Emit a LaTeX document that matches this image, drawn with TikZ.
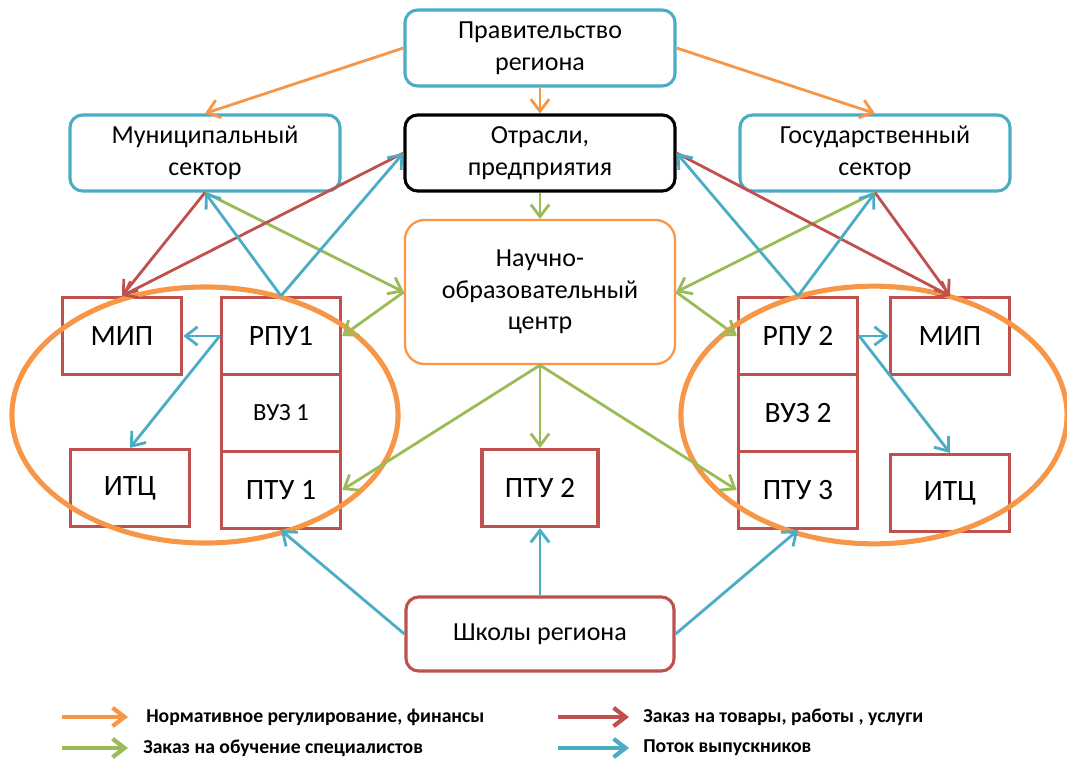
\documentclass[tikz,border=0pt]{standalone}
\usepackage{fontspec}
\setmainfont{Carlito}
\usetikzlibrary{arrows.meta}
\definecolor{cOrange}{HTML}{F79646}
\definecolor{cRed}{HTML}{C0504D}
\definecolor{cGreen}{HTML}{9BBB59}
\definecolor{cBlue}{HTML}{4BACC6}
\tikzset{
  roundbox/.style={draw=cBlue,line width=2.2pt,rounded corners=9pt,align=center,
    minimum width=6.75cm,minimum height=1.9cm,font=\fontsize{18.5}{22.5}\selectfont,inner sep=0pt},
  unitbox/.style={draw=cRed,line width=2.4pt,minimum width=2.98cm,minimum height=1.92cm,
    font=\fontsize{21}{24}\selectfont,inner sep=0pt},
  flow/.style={line width=2pt,-{Straight Barb[length=3mm,width=4.6mm]}},
  oval/.style={draw=cOrange,line width=3.6pt},
  legtext/.style={anchor=west,font=\bfseries\fontsize{14}{16}\selectfont,inner sep=0pt}
}
\begin{document}
\begin{tikzpicture}[x=0.025cm,y=-0.025cm]
    \useasboundingbox (0,0) rectangle (1067,762);
    % Top level boxes
    \node[roundbox] (gov) at (540,48) {Правительство\\региона};
    \node[roundbox] (mun) at (205,153) {Муниципальный\\сектор};
    \node[roundbox,draw=black] (otr) at (540,153) {Отрасли,\\предприятия};
    \node[roundbox] (state) at (875,153) {Государственный\\сектор};
    \node[roundbox,draw=cOrange,line width=1.6pt,minimum height=3.6cm,rounded corners=14pt] (noc) at (540,292) {Научно-\\образовательный\\центр};
    \node[roundbox,draw=cRed,minimum width=6.7cm,minimum height=1.85cm] (sch) at (540,634) {Школы региона};
    % Left cluster
    \node[unitbox] (mipL) at (122,336) {МИП};
    \node[unitbox] (itcL) at (130,488) {ИТЦ};
    \node[unitbox] (rpu1) at (281,336) {РПУ1};
    \node[unitbox,font=\fontsize{17.5}{20}\selectfont] (vuz1) at (281,413) {ВУЗ 1};
    \node[unitbox] (ptu1) at (281,490) {ПТУ 1};
    % Middle
    \node[unitbox,minimum width=2.9cm] (ptu2) at (540,488) {ПТУ 2};
    % Right cluster
    \node[unitbox] (rpu2) at (798,336) {РПУ 2};
    \node[unitbox] (vuz2) at (798,413) {ВУЗ 2};
    \node[unitbox] (ptu3) at (798,490) {ПТУ 3};
    \node[unitbox] (mipR) at (950,336) {МИП};
    \node[unitbox] (itcR) at (950,493) {ИТЦ};
    % Ellipses round both clusters
    \draw[oval] (205,415) ellipse [x radius=4.825cm, y radius=3.2cm];
    \draw[oval] (874,415) ellipse [x radius=4.825cm, y radius=3.22cm];
    % Orange: regulation and finance
    \draw[flow,cOrange] (gov.west) -- (mun.north);
    \draw[flow,cOrange] (gov.east) -- (state.north);
    \draw[flow,cOrange] (gov.south) -- (otr.north);
    % Green: training orders
    \draw[flow,cGreen] (otr.south) -- (noc.north);
    \draw[flow,cGreen] (mun.south) -- (noc.west);
    \draw[flow,cGreen] (state.south) -- (noc.east);
    \draw[flow,cGreen] (noc.west) -- (rpu1.east);
    \draw[flow,cGreen] (noc.east) -- (rpu2.west);
    \draw[flow,cGreen] (noc.south) -- (ptu1.east);
    \draw[flow,cGreen] (noc.south) -- (ptu2.north);
    \draw[flow,cGreen] (noc.south) -- (ptu3.west);
    % Red: orders for goods and services
    \draw[flow,cRed] (mun.south) -- (mipL.north);
    \draw[flow,cRed] (otr.west) -- (mipL.north);
    \draw[flow,cRed] (otr.east) -- (mipR.north);
    \draw[flow,cRed] (state.south) -- (mipR.north);
    % Blue: graduates
    \draw[flow,cBlue] (rpu1.north) -- (mun.south);
    \draw[flow,cBlue] (rpu1.north) -- (otr.west);
    \draw[flow,cBlue] (rpu2.north) -- (otr.east);
    \draw[flow,cBlue] (rpu2.north) -- (state.south);
    \draw[flow,cBlue] (rpu1.west) -- (mipL.east);
    \draw[flow,cBlue] (rpu1.west) -- (itcL.north);
    \draw[flow,cBlue] (rpu2.east) -- (mipR.west);
    \draw[flow,cBlue] (rpu2.east) -- (itcR.north);
    \draw[flow,cBlue] (sch.west) -- (ptu1.south);
    \draw[flow,cBlue] (sch.north) -- (ptu2.south);
    \draw[flow,cBlue] (sch.east) -- (ptu3.south);
    % Legend
    \coordinate (lg1a) at (62,717);  \coordinate (lg1b) at (128,717);
    \coordinate (lg2a) at (62,748);  \coordinate (lg2b) at (128,748);
    \coordinate (lg3a) at (558,717); \coordinate (lg3b) at (629,717);
    \coordinate (lg4a) at (558,748); \coordinate (lg4b) at (629,748);
    \draw[flow,line width=3pt,cOrange] (lg1a) -- (lg1b);
    \draw[flow,line width=3pt,cGreen] (lg2a) -- (lg2b);
    \draw[flow,line width=3pt,cRed] (lg3a) -- (lg3b);
    \draw[flow,line width=3pt,cBlue] (lg4a) -- (lg4b);
    \node[legtext] (lt1) at (146,717) {Нормативное регулирование, финансы};
    \node[legtext] (lt2) at (143,748) {Заказ на обучение специалистов};
    \node[legtext] (lt3) at (643,717) {Заказ на товары, работы , услуги};
    \node[legtext] (lt4) at (643,748) {Поток выпускников};
\end{tikzpicture}
\end{document}
